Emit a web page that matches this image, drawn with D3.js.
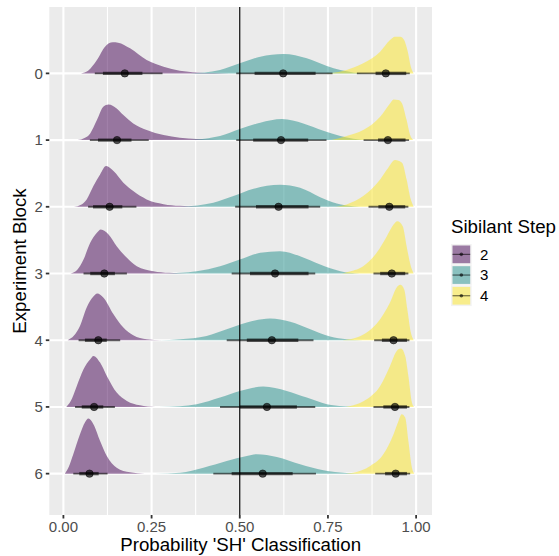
<!DOCTYPE html>
<html><head><meta charset="utf-8">
<script src="https://cdn.jsdelivr.net/npm/d3@7/dist/d3.min.js"></script>
<style>body{margin:0;background:#fff;font-family:"Liberation Sans",Arial,sans-serif;}</style>
</head><body><svg id="chart" width="559" height="556"></svg>
<script>
const blocks = ["0","1","2","3","4","5","6"];
const steps = ["2","3","4"];
const stepColors = ["#440154","#21908C","#FDE725"];
const xTicks = [0,0.25,0.5,0.75,1];
const xTickLabels = ["0.00","0.25","0.50","0.75","1.00"];

// density curves [value, scaled density] per block, one array per sibilant step
const dens2 = [
 [[0.05,0],[0.07,0.04],[0.095,0.2],[0.118,0.4],[0.14,0.465],[0.155,0.46],[0.189,0.375],[0.236,0.2],[0.284,0.1],[0.33,0.04],[0.378,0.015],[0.425,0.005],[0.47,0]],
 [[0.04,0],[0.06,0.03],[0.076,0.1],[0.095,0.3],[0.113,0.5],[0.128,0.535],[0.151,0.475],[0.17,0.375],[0.198,0.25],[0.236,0.15],[0.284,0.075],[0.33,0.035],[0.378,0.015],[0.425,0.005],[0.46,0]],
 [[0.03,0],[0.05,0.03],[0.066,0.11],[0.085,0.31],[0.104,0.485],[0.121,0.61],[0.142,0.535],[0.17,0.36],[0.198,0.235],[0.236,0.11],[0.284,0.04],[0.33,0.015],[0.378,0.005],[0.42,0]],
 [[0.02,0],[0.04,0.06],[0.057,0.21],[0.076,0.46],[0.095,0.61],[0.106,0.66],[0.128,0.585],[0.151,0.41],[0.18,0.235],[0.208,0.11],[0.255,0.035],[0.3,0.01],[0.35,0]],
 [[0.012,0],[0.03,0.07],[0.047,0.215],[0.066,0.49],[0.085,0.655],[0.096,0.7],[0.113,0.64],[0.142,0.39],[0.17,0.19],[0.198,0.075],[0.236,0.015],[0.28,0]],
 [[0.008,0],[0.02,0.08],[0.038,0.315],[0.057,0.565],[0.076,0.715],[0.085,0.765],[0.104,0.665],[0.123,0.465],[0.151,0.215],[0.18,0.09],[0.217,0.025],[0.26,0]],
 [[0.004,0],[0.015,0.1],[0.028,0.29],[0.047,0.59],[0.061,0.765],[0.071,0.825],[0.085,0.74],[0.104,0.49],[0.123,0.265],[0.151,0.09],[0.189,0.02],[0.23,0]]
];
const dens3 = [
 [[0.36,0],[0.4,0.015],[0.444,0.05],[0.5,0.15],[0.558,0.25],[0.624,0.29],[0.69,0.225],[0.747,0.11],[0.785,0.05],[0.822,0.015],[0.87,0]],
 [[0.36,0],[0.4,0.02],[0.444,0.06],[0.5,0.165],[0.558,0.26],[0.62,0.315],[0.68,0.25],[0.737,0.14],[0.785,0.06],[0.822,0.02],[0.87,0]],
 [[0.33,0],[0.38,0.02],[0.425,0.06],[0.482,0.16],[0.539,0.27],[0.614,0.33],[0.671,0.285],[0.728,0.145],[0.775,0.05],[0.822,0.01],[0.86,0]],
 [[0.29,0],[0.33,0.01],[0.378,0.035],[0.444,0.11],[0.5,0.21],[0.558,0.31],[0.614,0.335],[0.671,0.26],[0.728,0.135],[0.785,0.035],[0.84,0]],
 [[0.27,0],[0.331,0.015],[0.406,0.065],[0.463,0.165],[0.52,0.265],[0.586,0.325],[0.643,0.275],[0.7,0.165],[0.756,0.055],[0.803,0.015],[0.85,0]],
 [[0.27,0],[0.33,0.01],[0.378,0.04],[0.444,0.14],[0.5,0.24],[0.567,0.305],[0.633,0.24],[0.69,0.14],[0.747,0.04],[0.794,0.01],[0.84,0]],
 [[0.26,0],[0.331,0.015],[0.397,0.09],[0.463,0.19],[0.52,0.265],[0.548,0.29],[0.605,0.25],[0.671,0.14],[0.737,0.05],[0.803,0.01],[0.85,0]]
];
const dens4 = [
 [[0.74,0],[0.78,0.02],[0.803,0.05],[0.85,0.15],[0.898,0.325],[0.926,0.5],[0.94,0.55],[0.955,0.55],[0.966,0.5],[0.976,0.33],[0.985,0.1],[0.993,0]],
 [[0.76,0],[0.803,0.06],[0.85,0.15],[0.898,0.35],[0.926,0.55],[0.936,0.61],[0.95,0.6],[0.96,0.55],[0.973,0.3],[0.983,0.075],[0.992,0]],
 [[0.77,0],[0.803,0.035],[0.85,0.16],[0.898,0.41],[0.921,0.585],[0.94,0.7],[0.96,0.66],[0.973,0.41],[0.985,0.11],[0.993,0]],
 [[0.79,0],[0.803,0.02],[0.85,0.11],[0.888,0.31],[0.917,0.56],[0.936,0.735],[0.947,0.785],[0.962,0.71],[0.973,0.41],[0.985,0.11],[0.993,0]],
 [[0.79,0],[0.822,0.025],[0.86,0.115],[0.898,0.315],[0.926,0.565],[0.945,0.79],[0.955,0.83],[0.966,0.765],[0.975,0.465],[0.985,0.115],[0.993,0]],
 [[0.8,0],[0.822,0.025],[0.86,0.115],[0.898,0.315],[0.926,0.615],[0.945,0.84],[0.957,0.875],[0.969,0.765],[0.978,0.465],[0.988,0.065],[0.994,0]],
 [[0.8,0],[0.822,0.015],[0.87,0.115],[0.907,0.29],[0.936,0.59],[0.95,0.79],[0.959,0.89],[0.969,0.84],[0.978,0.49],[0.988,0.09],[0.995,0]]
];
// point + interval summaries (median, 66% and 95% intervals)
const median2 = [0.174,0.152,0.131,0.116,0.099,0.087,0.074];
const lo66_2 = [0.112,0.098,0.084,0.076,0.061,0.052,0.045];
const hi66_2 = [0.224,0.193,0.167,0.146,0.123,0.113,0.1];
const lo95_2 = [0.089,0.075,0.07,0.057,0.043,0.033,0.028];
const hi95_2 = [0.281,0.242,0.207,0.18,0.161,0.146,0.125];
const median3 = [0.623,0.617,0.61,0.6,0.591,0.577,0.565];
const lo66_3 = [0.542,0.538,0.546,0.529,0.52,0.5,0.477];
const hi66_3 = [0.715,0.694,0.695,0.695,0.666,0.662,0.65];
const lo95_3 = [0.49,0.49,0.487,0.477,0.463,0.444,0.425];
const hi95_3 = [0.763,0.746,0.728,0.714,0.709,0.714,0.716];
const median4 = [0.914,0.92,0.924,0.931,0.936,0.94,0.942];
const lo66_4 = [0.885,0.892,0.893,0.898,0.903,0.907,0.912];
const hi66_4 = [0.972,0.97,0.969,0.969,0.974,0.974,0.974];
const lo95_4 = [0.832,0.851,0.865,0.879,0.881,0.879,0.884];
const hi95_4 = [0.982,0.98,0.978,0.978,0.981,0.981,0.983];

const densities = [dens2, dens3, dens4];
const summaries = [
  {m:median2,l66:lo66_2,h66:hi66_2,l95:lo95_2,h95:hi95_2},
  {m:median3,l66:lo66_3,h66:hi66_3,l95:lo95_3,h95:hi95_3},
  {m:median4,l66:lo66_4,h66:hi66_4,l95:lo95_4,h95:hi95_4}
];

const svg = d3.select("#chart");
const P = {l:49.3, r:432, t:7, b:515};
const x = d3.scaleLinear().domain([-0.04, 1.045]).range([P.l, P.r]);
const y = d3.scaleLinear().domain([-0.995, 6.62]).range([P.t, P.b]);

svg.append("rect").attr("x",P.l).attr("y",P.t).attr("width",P.r-P.l).attr("height",P.b-P.t).attr("fill","#EBEBEB");

// grid
const minor = [0.125,0.375,0.625,0.875];
svg.append("g").selectAll("line").data(minor).join("line")
  .attr("x1",d=>x(d)).attr("x2",d=>x(d)).attr("y1",P.t).attr("y2",P.b)
  .attr("stroke","#fff").attr("stroke-width",1.1);
svg.append("g").selectAll("line").data(xTicks).join("line")
  .attr("x1",d=>x(d)).attr("x2",d=>x(d)).attr("y1",P.t).attr("y2",P.b)
  .attr("stroke","#fff").attr("stroke-width",2.1);
svg.append("g").selectAll("line").data(blocks).join("line")
  .attr("x1",P.l).attr("x2",P.r).attr("y1",(d,i)=>y(i)).attr("y2",(d,i)=>y(i))
  .attr("stroke","#fff").attr("stroke-width",2.1);

// slabs
const area = d3.area().curve(d3.curveMonotoneX);
const slabs = svg.append("g");
steps.forEach((s,si)=>{
  densities[si].forEach((pts,bi)=>{
    area.x(d=>x(d[0])).y0(y(bi)).y1(d=>y(bi - d[1]));
    slabs.append("path").attr("d",area(pts)).attr("fill",stepColors[si]).attr("fill-opacity",0.5);
  });
});

// intervals
const iv = svg.append("g");
steps.forEach((s,si)=>{
  const S = summaries[si];
  blocks.forEach((b,bi)=>{
    iv.append("line").attr("x1",x(S.l95[bi])).attr("x2",x(S.h95[bi])).attr("y1",y(bi)).attr("y2",y(bi))
      .attr("stroke","#000").attr("stroke-opacity",0.6).attr("stroke-width",1.9);
    iv.append("line").attr("x1",x(S.l66[bi])).attr("x2",x(S.h66[bi])).attr("y1",y(bi)).attr("y2",y(bi))
      .attr("stroke","#000").attr("stroke-opacity",0.6).attr("stroke-width",3.4);
  });
});
steps.forEach((s,si)=>{
  const S = summaries[si];
  blocks.forEach((b,bi)=>{
    iv.append("circle").attr("cx",x(S.m[bi])).attr("cy",y(bi)).attr("r",3.7)
      .attr("fill","#000").attr("fill-opacity",0.65).attr("stroke","#000").attr("stroke-opacity",0.5).attr("stroke-width",1);
  });
});

// vertical reference line
svg.append("line").attr("x1",x(0.5)).attr("x2",x(0.5)).attr("y1",P.t).attr("y2",P.b)
  .attr("stroke","#000").attr("stroke-width",1.2);

// axes
const ax = svg.append("g");
ax.selectAll("line.xt").data(xTicks).join("line").attr("class","xt")
  .attr("x1",d=>x(d)).attr("x2",d=>x(d)).attr("y1",P.b).attr("y2",P.b+3.5)
  .attr("stroke","#333").attr("stroke-width",1.8);
ax.selectAll("text.xl").data(xTicks).join("text").attr("class","xl")
  .attr("x",d=>x(d)).attr("y",P.b+17).attr("text-anchor","middle")
  .attr("font-size",15).attr("fill","#4D4D4D").text((d,i)=>xTickLabels[i]);
ax.selectAll("line.yt").data(blocks).join("line").attr("class","yt")
  .attr("x1",P.l-3.5).attr("x2",P.l).attr("y1",(d,i)=>y(i)).attr("y2",(d,i)=>y(i))
  .attr("stroke","#333").attr("stroke-width",1.8);
ax.selectAll("text.yl").data(blocks).join("text").attr("class","yl")
  .attr("x",P.l-6.5).attr("y",(d,i)=>y(i)).attr("dy","0.36em").attr("text-anchor","end")
  .attr("font-size",15).attr("fill","#4D4D4D").text(d=>d);

svg.append("text").attr("x",(P.l+P.r)/2).attr("y",551).attr("text-anchor","middle")
  .attr("font-size",18.7).attr("fill","#000").text("Probability 'SH' Classification");
svg.append("text").attr("transform",`translate(${26},${(P.t+P.b)/2}) rotate(-90)`).attr("text-anchor","middle")
  .attr("font-size",18.7).attr("fill","#000").text("Experiment Block");

// legend
const lg = svg.append("g");
lg.append("text").attr("x",451).attr("y",233).attr("font-size",18.7).attr("fill","#000").text("Sibilant Step");
steps.forEach((s,si)=>{
  const ky = 244 + si*20.7;
  lg.append("rect").attr("x",451).attr("y",ky).attr("width",20.7).attr("height",20.7).attr("fill","#F2F2F2");
  lg.append("rect").attr("x",452.5).attr("y",ky+1.5).attr("width",17.7).attr("height",17.7)
    .attr("fill",stepColors[si]).attr("fill-opacity",0.5);
  lg.append("line").attr("x1",452.5).attr("x2",470.2).attr("y1",ky+10.35).attr("y2",ky+10.35)
    .attr("stroke","#000").attr("stroke-opacity",0.6).attr("stroke-width",1.1);
  lg.append("circle").attr("cx",461.35).attr("cy",ky+10.35).attr("r",1.8).attr("fill","#000").attr("fill-opacity",0.6);
  lg.append("text").attr("x",480).attr("y",ky+10.35).attr("dy","0.36em").attr("font-size",15).attr("fill","#000").text(s);
});
</script></body></html>
